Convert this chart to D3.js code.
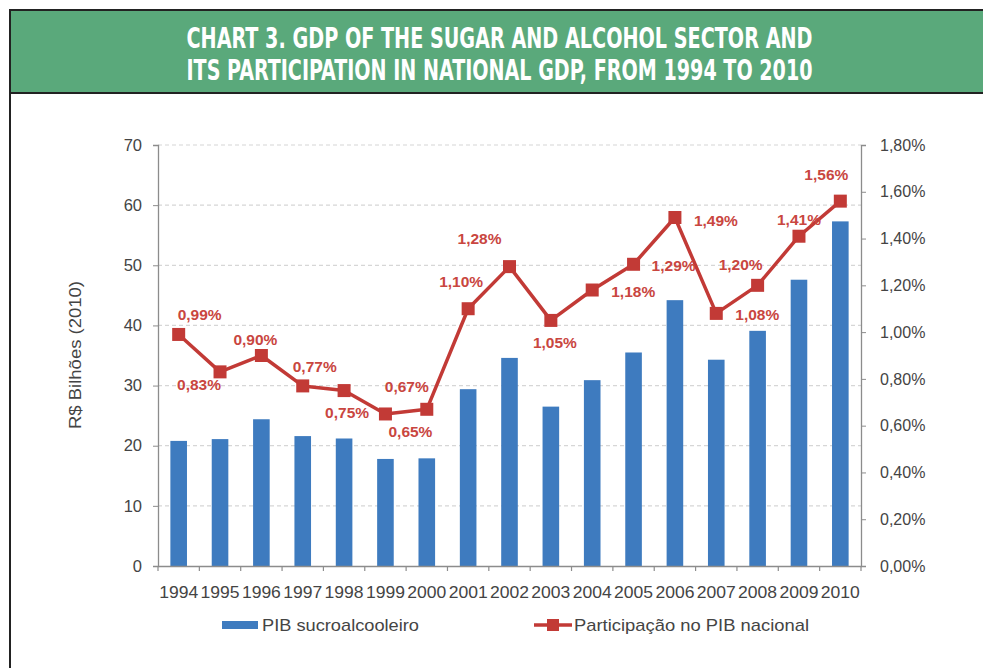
<!DOCTYPE html>
<html>
<head>
<meta charset="utf-8">
<script src="https://cdn.jsdelivr.net/npm/d3@7"></script>
<style>
  html, body { margin: 0; padding: 0; background: #fff; }
  svg { display: block; }
</style>
</head>
<body>
<svg id="chart" width="983" height="668"></svg>
<script>
// ---- data ----
const titleLines = [
  "CHART 3. GDP OF THE SUGAR AND ALCOHOL SECTOR AND",
  "ITS PARTICIPATION IN NATIONAL GDP, FROM 1994 TO 2010"
];
const years = ["1994","1995","1996","1997","1998","1999","2000","2001","2002","2003","2004","2005","2006","2007","2008","2009","2010"];
const pibSucro = [20.8, 21.1, 24.4, 21.6, 21.2, 17.8, 17.9, 29.4, 34.6, 26.5, 30.9, 35.5, 44.2, 34.3, 39.1, 47.6, 57.3];
const participacao = [0.99, 0.83, 0.90, 0.77, 0.75, 0.65, 0.67, 1.10, 1.28, 1.05, 1.18, 1.29, 1.49, 1.08, 1.20, 1.41, 1.56];
const leftTicks = [0, 10, 20, 30, 40, 50, 60, 70];
const rightTicks = [0, 0.2, 0.4, 0.6, 0.8, 1.0, 1.2, 1.4, 1.6, 1.8];
const yAxisTitle = "R$ Bilhões (2010)";
const legendLabels = ["PIB sucroalcooleiro", "Participação no PIB nacional"];

// label placement offsets (layout, not data)
const labelOffsets = [
  [21,-14],[-21,18],[-6,-11],[12,-14],[3,27],[25,23],[-20,-17],
  [-7,-22],[-30,-23],[4,28],[41,7],[40,7],[41,8],[41,7],[-17,-15],[0,-11],[-14,-21]
];

const fmtPct = v => v.toFixed(2).replace(".", ",") + "%";

const svg = d3.select("#chart");

// ---- frame & header ----
svg.append("rect").attr("x", 10).attr("y", 10).attr("width", 980).attr("height", 83)
  .attr("fill", "#5aa97b").attr("stroke", "#222").attr("stroke-width", 2);
svg.append("line").attr("x1", 10).attr("x2", 10).attr("y1", 10).attr("y2", 668)
  .attr("stroke", "#222").attr("stroke-width", 2);

svg.selectAll("text.title").data(titleLines).join("text")
  .attr("class", "title")
  .attr("transform", (d, i) => `translate(499.5,${48 + i * 32}) scale(1,1.3)`)
  .attr("text-anchor", "middle")
  .attr("font-family", "'DejaVu Sans Condensed', 'Liberation Sans Narrow', 'Liberation Sans', Arial, sans-serif")
  .attr("font-weight", "bold")
  .attr("font-size", 22)
  .attr("fill", "#fff")
  .attr("textLength", 626)
  .attr("lengthAdjust", "spacingAndGlyphs")
  .text(d => d);

// ---- scales ----
const plot = { left: 158, right: 861, top: 145, bottom: 566 };
const xc = d3.scaleBand().domain(years).range([plot.left, plot.right]);
const yL = d3.scaleLinear().domain([0, 70]).range([plot.bottom, plot.top]);
const yR = d3.scaleLinear().domain([0, 1.8]).range([plot.bottom, plot.top]);

const axisColor = "#8c8c8c";
const textFont = "'Liberation Sans', Arial, sans-serif";

// gridlines
svg.append("g").selectAll("line").data(leftTicks.filter(t => t > 0)).join("line")
  .attr("x1", plot.left).attr("x2", plot.right)
  .attr("y1", d => yL(d)).attr("y2", d => yL(d))
  .attr("stroke", "#d6d6d6").attr("stroke-width", 1.2).attr("stroke-dasharray", "4,3");

// bars
svg.append("g").selectAll("rect").data(years).join("rect")
  .attr("x", (d) => xc(d) + xc.bandwidth() / 2 - 8.3)
  .attr("width", 16.6)
  .attr("y", (d, i) => yL(pibSucro[i]))
  .attr("height", (d, i) => yL(0) - yL(pibSucro[i]))
  .attr("fill", "#3e7bbf");

// left axis
const gL = svg.append("g").attr("transform", `translate(${plot.left},0)`)
  .call(d3.axisLeft(yL).tickValues(leftTicks).tickSize(5).tickPadding(11));
gL.select(".domain").attr("stroke", axisColor).attr("stroke-width", 1.3);
gL.selectAll(".tick line").attr("stroke", axisColor);
gL.selectAll(".tick text").attr("font-family", textFont).attr("font-size", 16.5).attr("fill", "#444");

// right axis
const gR = svg.append("g").attr("transform", `translate(${plot.right},0)`)
  .call(d3.axisRight(yR).tickValues(rightTicks).tickSize(5).tickPadding(14).tickFormat(v => v.toFixed(2).replace(".", ",") + "%"));
gR.select(".domain").attr("stroke", axisColor).attr("stroke-width", 1.3);
gR.selectAll(".tick line").attr("stroke", axisColor);
gR.selectAll(".tick text").attr("font-family", textFont).attr("font-size", 16).attr("fill", "#444");

// bottom axis
const gB = svg.append("g").attr("transform", `translate(0,${plot.bottom})`)
  .call(d3.axisBottom(xc).tickSize(0).tickPadding(20));
gB.select(".domain").attr("stroke", axisColor).attr("stroke-width", 1.3);
gB.selectAll(".tick text").attr("font-family", textFont).attr("font-size", 16.5).attr("fill", "#444")
  .attr("textLength", 39).attr("lengthAdjust", "spacingAndGlyphs");
// boundary ticks
const bounds = years.map(d => xc(d)).concat([plot.right]);
svg.append("g").selectAll("line").data(bounds).join("line")
  .attr("x1", d => d).attr("x2", d => d)
  .attr("y1", plot.bottom).attr("y2", plot.bottom + 5)
  .attr("stroke", axisColor).attr("stroke-width", 1.2);

// y-axis title
svg.append("text")
  .attr("transform", "translate(81,355) rotate(-90)")
  .attr("text-anchor", "middle")
  .attr("font-family", textFont).attr("font-size", 17).attr("fill", "#444")
  .attr("textLength", 148).attr("lengthAdjust", "spacingAndGlyphs")
  .text(yAxisTitle);

// line series
const lineColor = "#c23a36";
const cx = d => xc(d) + xc.bandwidth() / 2;
const lineGen = d3.line().x((d, i) => cx(years[i])).y(d => yR(d));
svg.append("path").datum(participacao)
  .attr("d", lineGen).attr("fill", "none")
  .attr("stroke", lineColor).attr("stroke-width", 3.5).attr("stroke-linejoin", "round");

svg.append("g").selectAll("rect").data(participacao).join("rect")
  .attr("x", (d, i) => cx(years[i]) - 6.5)
  .attr("y", d => yR(d) - 6.5)
  .attr("width", 13).attr("height", 13)
  .attr("fill", lineColor);

svg.append("g").selectAll("text").data(participacao).join("text")
  .attr("x", (d, i) => cx(years[i]) + labelOffsets[i][0])
  .attr("y", (d, i) => yR(d) + labelOffsets[i][1])
  .attr("text-anchor", "middle")
  .attr("font-family", textFont).attr("font-weight", "bold").attr("font-size", 15.5)
  .attr("fill", "#c9463f")
  .text(d => fmtPct(d));

// legend
const legY = 625;
svg.append("rect").attr("x", 222).attr("y", legY - 4).attr("width", 36).attr("height", 8).attr("fill", "#3e7bbf");
svg.append("text").attr("x", 262).attr("y", legY).attr("dominant-baseline", "central")
  .attr("font-family", textFont).attr("font-size", 17).attr("fill", "#444")
  .attr("textLength", 157).attr("lengthAdjust", "spacingAndGlyphs").text(legendLabels[0]);
svg.append("line").attr("x1", 534).attr("x2", 572).attr("y1", legY).attr("y2", legY)
  .attr("stroke", lineColor).attr("stroke-width", 3.5);
svg.append("rect").attr("x", 547).attr("y", legY - 6).attr("width", 12).attr("height", 12).attr("fill", lineColor);
svg.append("text").attr("x", 574).attr("y", legY).attr("dominant-baseline", "central")
  .attr("font-family", textFont).attr("font-size", 17).attr("fill", "#444")
  .attr("textLength", 235).attr("lengthAdjust", "spacingAndGlyphs").text(legendLabels[1]);
</script>
</body>
</html>
